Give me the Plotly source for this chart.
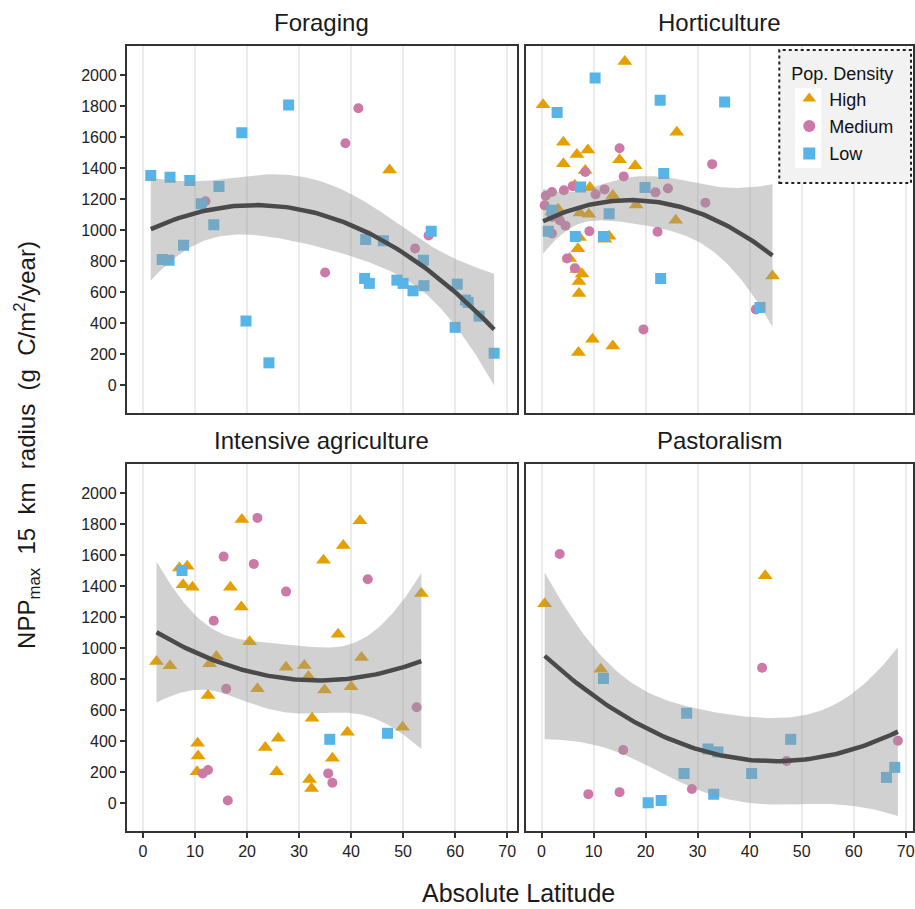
import numpy as np
import plotly.graph_objects as go

# ---------------- data ----------------
panels = ["Foraging", "Horticulture", "Intensive agriculture", "Pastoralism"]
groups = ["High", "Medium", "Low"]

forag_high_x = [47.4]
forag_high_y = [1390]
forag_med_x = [12.0, 35.0, 38.9, 41.4, 52.3, 54.9]
forag_med_y = [1187, 727, 1562, 1788, 882, 966]
forag_low_x = [1.5, 5.2, 9.0, 14.6, 11.2, 13.6, 7.8, 3.7, 5.0, 19.0, 28.0, 19.8, 24.2, 42.8, 46.2,
               42.6, 43.5, 48.8, 50.0, 51.9, 53.9, 54.0, 55.4, 60.4, 60.0, 62.0, 62.5, 64.6, 67.5]
forag_low_y = [1354, 1343, 1322, 1283, 1172, 1036, 903, 811, 807, 1629, 1809, 414, 144, 940, 933,
               689, 657, 678, 657, 609, 807, 642, 994, 652, 373, 549, 534, 446, 206]

horti_high_x = [16.0, 0.3, 4.2, 6.8, 8.9, 4.2, 26.0, 15.0, 18.0, 8.4, 6.4, 9.3, 13.7, 18.2, 3.2, 2.0,
                7.4, 9.1, 25.8, 7.3, 13.0, 12.2, 7.0, 5.4, 6.8, 7.8, 7.2, 7.2, 9.8, 13.7, 7.1, 44.4]
horti_high_y = [2090, 1811, 1569, 1489, 1519, 1429, 1633, 1455, 1416, 1386, 1290, 1277, 1225, 1163, 1135, 1118,
                1112, 1103, 1064, 953, 961, 942, 880, 818, 747, 717, 670, 592, 296, 253, 210, 704]
horti_med_x = [15.0, 32.8, 8.4, 15.8, 2.0, 4.3, 6.0, 12.1, 10.4, 21.9, 24.3, 31.5, 0.8, 0.6, 2.0, 3.5,
               4.6, 9.2, 22.3, 2.0, 4.9, 6.4, 19.6, 41.2]
horti_med_y = [1530, 1427, 1376, 1348, 1247, 1258, 1285, 1264, 1232, 1245, 1270, 1178, 1223, 1161, 1086, 1065,
               1030, 994, 991, 979, 818, 755, 360, 489]
horti_low_x = [10.3, 3.0, 22.8, 35.2, 23.5, 7.5, 19.9, 13.0, 2.0, 1.3, 6.5, 11.9, 22.9, 42.0]
horti_low_y = [1983, 1760, 1839, 1828, 1367, 1279, 1277, 1107, 1129, 994, 959, 959, 689, 502]

inten_high_x = [19.0, 41.7, 38.5, 34.7, 7.0, 8.5, 7.7, 9.5, 16.8, 18.9, 53.5, 20.5, 37.5, 42.0, 14.1, 12.8,
                2.6, 5.2, 27.5, 31.0, 31.8, 34.9, 22.0, 40.0, 12.5, 32.5, 49.9, 39.3, 10.5, 26.0, 23.5,
                10.6, 36.4, 10.4, 25.7, 32.0, 32.4]
inten_high_y = [1832, 1823, 1663, 1568, 1519, 1530, 1411, 1394, 1394, 1266, 1353, 1042, 1090, 941, 947, 900,
                915, 887, 878, 889, 818, 731, 738, 751, 695, 548, 490, 457, 386, 419, 360,
                304, 289, 203, 203, 153, 95]
inten_med_x = [22.0, 15.5, 21.3, 43.2, 27.5, 13.6, 16.0, 52.6, 12.5, 11.5, 35.6, 36.4, 16.3]
inten_med_y = [1842, 1592, 1545, 1446, 1366, 1178, 738, 619, 214, 192, 192, 132, 17]
inten_low_x = [7.5, 35.9, 47.0]
inten_low_y = [1502, 412, 451]

past_high_x = [0.6, 43.0, 11.4]
past_high_y = [1288, 1469, 865]
past_med_x = [3.5, 42.4, 15.7, 9.0, 15.0, 28.9, 47.1, 68.5]
past_med_y = [1609, 874, 343, 58, 71, 91, 272, 403]
past_low_x = [11.9, 27.9, 32.0, 33.9, 27.4, 33.1, 20.5, 23.0, 40.4, 47.9, 66.3, 67.9]
past_low_y = [805, 580, 350, 330, 192, 58, 2, 17, 192, 412, 166, 231]

panel_data = {
    "Foraging": [(forag_high_x, forag_high_y), (forag_med_x, forag_med_y), (forag_low_x, forag_low_y)],
    "Horticulture": [(horti_high_x, horti_high_y), (horti_med_x, horti_med_y), (horti_low_x, horti_low_y)],
    "Intensive agriculture": [(inten_high_x, inten_high_y), (inten_med_x, inten_med_y), (inten_low_x, inten_low_y)],
    "Pastoralism": [(past_high_x, past_high_y), (past_med_x, past_med_y), (past_low_x, past_low_y)],
}

x_ticks = list(range(0, 71, 10))
y_ticks = list(range(0, 2001, 200))

# ---------------- style ----------------
colors = {"High": "#E69F00", "Medium": "#CC79A7", "Low": "#56B4E9"}
symbols = {"High": "triangle-up", "Medium": "circle", "Low": "square"}
sizes = {"High": 13, "Medium": 10, "Low": 11}
W, H = 915, 909
FONT = "Liberation Sans, Arial, sans-serif"


def t975(df):
    z = 1.959964
    return z + (z**3 + z) / (4 * df) + (5 * z**5 + 16 * z**3 + 3 * z) / (96 * df**2)


def quad_fit(x, y, n=100):
    x = np.asarray(x, float)
    y = np.asarray(y, float)
    X = np.column_stack([np.ones_like(x), x, x**2])
    beta, *_ = np.linalg.lstsq(X, y, rcond=None)
    resid = y - X @ beta
    df = len(x) - 3
    s2 = resid @ resid / df
    XtXi = np.linalg.inv(X.T @ X)
    xs = np.linspace(x.min(), x.max(), n)
    Xs = np.column_stack([np.ones_like(xs), xs, xs**2])
    fit = Xs @ beta
    se = np.sqrt(np.einsum("ij,jk,ik->i", Xs, XtXi, Xs) * s2)
    t = t975(df)
    return xs, fit, fit - t * se, fit + t * se


# pixel geometry -> domains
px_x = {0: (127, 518), 1: (527, 915)}
px_y = {0: (46, 413), 1: (464, 831)}
x0_px = {0: 143.3, 1: 542.7}
ppu_x = 5.214
y_range = [-180, 2190]

fig = go.Figure()
for i, p in enumerate(panels):
    col, row = i % 2, i // 2
    ax = "" if i == 0 else str(i + 1)
    xref, yref = "x" + ax, "y" + ax
    allx, ally = [], []
    for g, (gx, gy) in zip(groups, panel_data[p]):
        allx += gx
        ally += gy
        fig.add_trace(go.Scatter(
            x=gx, y=gy, mode="markers", xaxis=xref, yaxis=yref,
            marker=dict(color=colors[g], symbol=symbols[g], size=sizes[g], line=dict(width=0)),
            name=g, legendgroup=g, showlegend=(i == 0), legendrank={"High": 1, "Medium": 2, "Low": 3}[g],
        ))
    xs, fit, lo, hi = quad_fit(allx, ally)
    fig.add_trace(go.Scatter(
        x=np.concatenate([xs, xs[::-1]]), y=np.concatenate([hi, lo[::-1]]),
        fill="toself", fillcolor="rgba(153,153,153,0.45)", line=dict(width=0),
        mode="lines", xaxis=xref, yaxis=yref, showlegend=False, hoverinfo="skip"))
    fig.add_trace(go.Scatter(
        x=xs, y=fit, mode="lines", line=dict(color="#4a4a4a", width=4.5),
        xaxis=xref, yaxis=yref, showlegend=False))

    l, r = px_x[col]
    t, b = px_y[row]
    xr = [(l - x0_px[col]) / ppu_x, (r - x0_px[col]) / ppu_x]
    xaxis = dict(domain=[l / W, r / W], range=xr, anchor=yref,
                 tickvals=x_ticks, showgrid=True, gridcolor="#ebebeb", gridwidth=1.6,
                 zeroline=False, showline=True, linecolor="#333333", linewidth=1.6, mirror=True,
                 showticklabels=(row == 1), ticks="outside" if row == 1 else "",
                 ticklen=5, tickwidth=1.6, tickcolor="#333333",
                 tickfont=dict(family=FONT, size=16, color="#222222"))
    yaxis = dict(domain=[1 - b / H, 1 - t / H], range=y_range, anchor=xref,
                 tickvals=y_ticks, showgrid=False, zeroline=False,
                 showline=True, linecolor="#333333", linewidth=1.6, mirror=True,
                 showticklabels=(col == 0), ticks="outside" if col == 0 else "",
                 ticklen=5, tickwidth=1.6, tickcolor="#333333",
                 tickfont=dict(family=FONT, size=16, color="#222222"))
    fig.layout["xaxis" + ax] = xaxis
    fig.layout["yaxis" + ax] = yaxis
    fig.add_annotation(text=p, x=(l + r) / 2 / W, y=1 - (t - 24) / H, xref="paper", yref="paper",
                       showarrow=False, font=dict(family=FONT, size=24, color="#1a1a1a"),
                       xanchor="center", yanchor="middle")

fig.add_annotation(text="Absolute Latitude", x=520 / W, y=1 - 893 / H, xref="paper", yref="paper",
                   showarrow=False, font=dict(family=FONT, size=25, color="#1a1a1a"),
                   xanchor="center", yanchor="middle")
fig.add_annotation(text="NPP<sub>max</sub>\u00a0\u00a015\u00a0\u00a0km\u00a0\u00a0radius\u00a0\u00a0(g\u00a0\u00a0C/m<sup>2</sup>/year)",
                   x=27 / W, y=1 - 445 / H, xref="paper", yref="paper", textangle=-90,
                   showarrow=False, font=dict(family=FONT, size=24, color="#1a1a1a"),
                   xanchor="center", yanchor="middle")

# legend box (dotted) and white key background
fig.add_shape(type="rect", xref="paper", yref="paper", x0=781 / W, x1=913 / W,
              y0=1 - 183 / H, y1=1 - 50 / H, fillcolor="#f2f2f2",
              line=dict(color="#222222", width=2, dash="dot"), layer="above")
fig.add_shape(type="rect", xref="paper", yref="paper", x0=797 / W, x1=823 / W,
              y0=1 - 168 / H, y1=1 - 88 / H, fillcolor="white",
              line=dict(width=0), layer="above")

fig.update_layout(
    width=W, height=H, margin=dict(l=0, r=0, t=0, b=0),
    paper_bgcolor="white", plot_bgcolor="white",
    legend=dict(x=791 / W, y=1 - 57 / H, xanchor="left", yanchor="top",
                bgcolor="rgba(0,0,0,0)", borderwidth=0,
                title=dict(text="Pop. Density", font=dict(family=FONT, size=18, color="#111111")),
                font=dict(family=FONT, size=18, color="#111111"),
                itemsizing="constant", tracegroupgap=1),
    showlegend=True,
)

fig.write_html("out.html")
